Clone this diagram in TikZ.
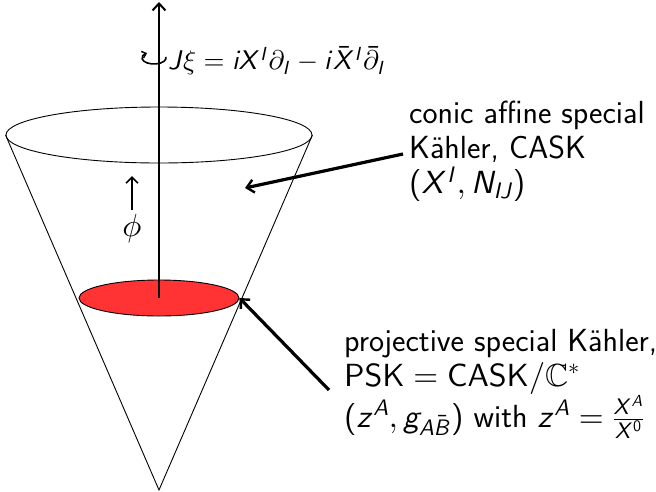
\documentclass[tikz,border=0pt]{standalone}
\usepackage{amssymb}
\usetikzlibrary{arrows.meta,shapes.geometric}
\renewcommand\familydefault{\sfdefault}
\DeclareFontFamily{OT1}{mysans}{}
\DeclareFontShape{OT1}{mysans}{m}{n}{<-> cmss10}{}
\DeclareFontShape{OT1}{mysans}{m}{sl}{<-> cmssi10}{}
\DeclareFontFamily{OML}{mymi}{\skewchar\font127 }
\DeclareFontShape{OML}{mymi}{m}{it}{<-> cmmi10}{}
\DeclareFontFamily{OMS}{mysy}{\skewchar\font48 }
\DeclareFontShape{OMS}{mysy}{m}{n}{<-> cmsy10}{}
\SetSymbolFont{letters}{normal}{OML}{mymi}{m}{it}
\SetSymbolFont{symbols}{normal}{OMS}{mysy}{m}{n}
\DeclareSymbolFont{sfletters}{OT1}{mysans}{m}{sl}
\SetSymbolFont{operators}{normal}{OT1}{mysans}{m}{n}
\makeatletter
\count@=`A
\loop
  \mathcode\count@=\numexpr"7000+\symsfletters*"100+\count@\relax
  \ifnum\count@<`Z \advance\count@ 1 \repeat
\count@=`a
\loop
  \mathcode\count@=\numexpr"7000+\symsfletters*"100+\count@\relax
  \ifnum\count@<`z \advance\count@ 1 \repeat
\makeatother
\definecolor{diskred}{RGB}{255,51,51}
\tikzset{
  thinline/.style={line width=0.9pt},
  axisarrow/.style={line width=2.4pt,-{Straight Barb[length=7pt,width=13pt,line width=2pt]}},
  callout/.style={line width=3.2pt,-{Straight Barb[length=7pt,width=13pt,line width=2.4pt]}},
  smallarrow/.style={line width=1.8pt,-{Straight Barb[length=6pt,width=12pt,line width=1.6pt]}},
  lbl/.style={font=\fontsize{32}{35}\selectfont, inner sep=0pt, align=left},
}
\begin{document}
\begin{tikzpicture}[x=1pt,y=-1pt]
\useasboundingbox (0,0) rectangle (656,491);
% cone
\node[draw, thinline, ellipse, minimum width=306pt, minimum height=56pt, inner sep=0pt] (rim) at (159,135) {};
\coordinate (apex) at (159,490);
\draw[thinline] (rim.west) -- (apex) -- (rim.east);
\node[draw, thinline, fill=diskred, ellipse, minimum width=160pt, minimum height=36pt, inner sep=0pt] (disk) at (159,298) {};
% axis
\coordinate (axtop) at (159,2);
\draw[axisarrow] (disk.center) -- (axtop);
% rotation curl
\coordinate (curl) at (154,58);
\draw[line width=1.6pt,-{Straight Barb[length=4pt,width=7pt,line width=1.4pt]}]
  ([shift={(10:12pt and 6pt)}]curl) arc[start angle=10, end angle=-235, x radius=12pt, y radius=6pt];
\node[lbl, font=\fontsize{27}{32}\selectfont, anchor=west] (jxi) at (168,61) {$J\xi = iX^I\partial_I - i\bar X^I\bar\partial_I$};
% phi
\node[lbl] (phi) at (132,228) {$\phi$};
\coordinate (phibase) at (132,210);
\coordinate (phitip) at (132,176);
\draw[smallarrow] (phibase) -- (phitip);
% labels
\node[lbl, anchor=north west] (cask) at (409,101) {conic affine special\\K\"ahler, CASK\\$(X^I,N_{IJ})$};
\coordinate (caskstart) at (403,154);
\coordinate (casktip) at (245,188);
\draw[callout] (caskstart) -- (casktip);
\node[lbl, anchor=north west] (psk) at (344,329) {projective special K\"ahler,\\$\mathrm{PSK}=\mathrm{CASK}/\mathbb{C}^*$\\$(z^A,g_{A\bar B})$ with $z^A=\frac{X^A}{X^0}$};
\coordinate (pskstart) at (329,390);
\draw[callout] (pskstart) -- (disk.east);
\end{tikzpicture}
\end{document}
